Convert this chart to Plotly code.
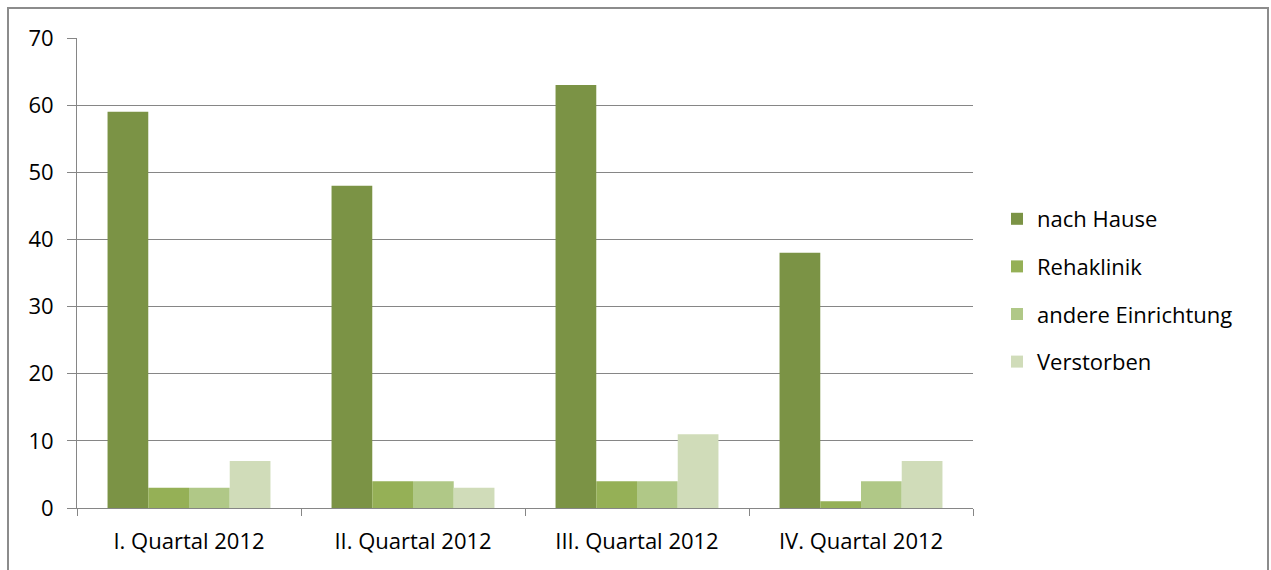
import plotly.graph_objects as go

categories = ["I. Quartal 2012", "II. Quartal 2012", "III. Quartal 2012", "IV. Quartal 2012"]
series_names = ["nach Hause", "Rehaklinik", "andere Einrichtung", "Verstorben"]
nach_hause = [59, 48, 63, 38]
rehaklinik = [3, 4, 4, 1]
andere_einrichtung = [3, 4, 4, 4]
verstorben = [7, 3, 11, 7]
y_ticks = [0, 10, 20, 30, 40, 50, 60, 70]

colors = ["#7B9345", "#95B056", "#B0C887", "#D0DCB9"]
values = [nach_hause, rehaklinik, andere_einrichtung, verstorben]

FONT = "Open Sans"
FS = 22
fig = go.Figure()
for name, vals, col in zip(series_names, values, colors):
    fig.add_trace(go.Bar(x=categories, y=vals, name=name, marker_color=col,
                         marker_line_width=0, legendgroup=name))

W, H = 1271, 570
L, R, T, B = 77, 298, 38, 62
pw, ph = W - L - R, H - T - B

def px_x(p):
    return (p - L) / pw

def px_y(p):
    return (H - B - p) / ph

fig.update_layout(
    width=W, height=H,
    margin=dict(l=L, r=R, t=T, b=B, autoexpand=False),
    paper_bgcolor="white", plot_bgcolor="white",
    barmode="group", bargap=0.2727, bargroupgap=0,
    font=dict(family=FONT, size=FS, color="black"),
    legend=dict(x=px_x(997), xanchor="left", y=px_y(198), yanchor="top",
                font=dict(family=FONT, size=FS, color="black"),
                tracegroupgap=16, bgcolor="rgba(0,0,0,0)"),
    showlegend=True,
    xaxis=dict(showline=True, linecolor="#868686", linewidth=1,
               ticks="outside", tickson="boundaries", ticklen=7,
               tickcolor="#868686", showgrid=False,
               tickfont=dict(family=FONT, size=FS), ticklabelstandoff=14),
    yaxis=dict(range=[0, 70], tickvals=y_ticks, showline=True,
               linecolor="#868686", linewidth=1, ticks="outside", ticklen=9,
               tickcolor="#868686", showgrid=True, gridcolor="#868686",
               gridwidth=1, zeroline=False,
               tickfont=dict(family=FONT, size=FS), ticklabelstandoff=9),
    shapes=[dict(type="rect", xref="paper", yref="paper",
                 x0=px_x(8), x1=px_x(1268), y0=px_y(590), y1=px_y(8),
                 line=dict(color="#8C8C8C", width=2), layer="below")],
)

fig.write_html("out.html", config={"displayModeBar": False},
               post_script="document.body.style.margin='0';document.body.style.overflow='hidden';")
